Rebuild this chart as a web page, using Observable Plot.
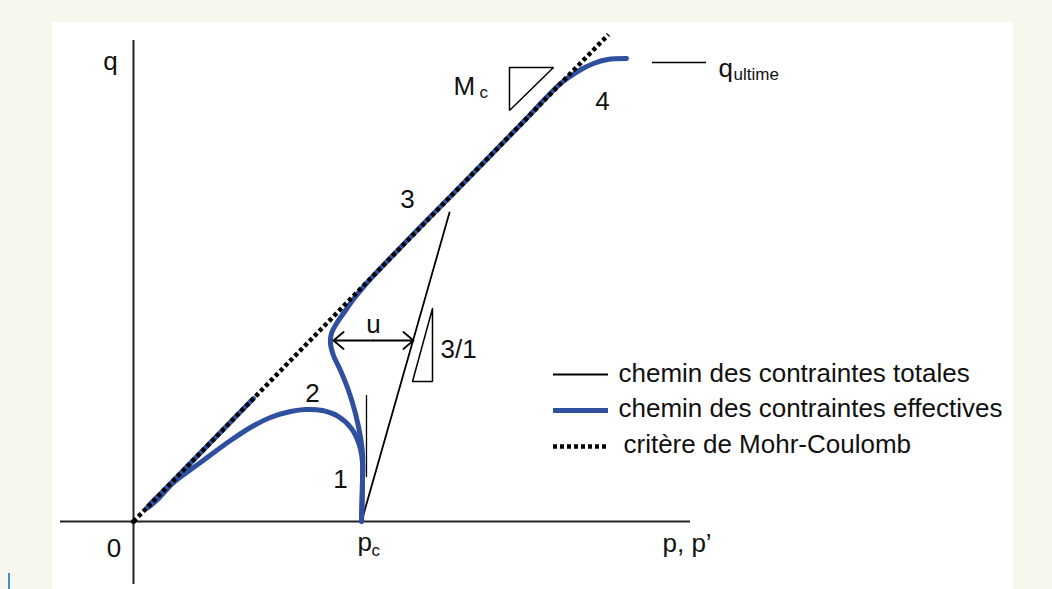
<!DOCTYPE html>
<html><head><meta charset="utf-8">
<script src="https://cdn.jsdelivr.net/npm/d3@7"></script>
<script src="https://cdn.jsdelivr.net/npm/@observablehq/plot@0.6"></script>
<style>
html,body{margin:0;padding:0;background:#f7f7ee;width:1052px;height:589px;overflow:hidden;}
#panel{position:absolute;left:52px;top:22px;width:961px;height:567px;background:#fff;}
#mark{position:absolute;left:8px;top:573px;width:2px;height:16px;background:#4a8ad0;}
#chart{position:absolute;left:0;top:0;}
</style></head><body>
<div id="panel"></div><div id="mark"></div><div id="chart"></div>
<script>
// ---- data (p = p/pc, q = q/pc) ----
const xDomain = [-0.5833, 4.0307];
const yDomain = [-0.2556, 1.9586];
const axisP = [-0.3202, 2.4430];      // horizontal axis extent
const axisQ = [-0.2368, 1.8083];      // vertical axis extent

const mcP = [0, 2.0833];               // Mohr-Coulomb line
const mcQ = [0, 1.8308];

const totalP = [1.0, 1.386];           // total stress path (3/1)
const totalQ = [0, 1.1617];

const tickP = 1.0219, tickQ = [0.1654, 0.4737];

// effective stress path 1-3-4
const mainP = [1.0000, 1.0044, 1.0044, 0.9956, 0.9737, 0.9430, 0.9079, 0.8772, 0.8640, 0.8684, 0.8904, 0.9298, 0.9605, 1.0175, 1.1711, 1.4342, 1.6974, 1.8728, 1.9474, 2.0175, 2.0789, 2.1623];
const mainQ = [0.0000, 0.1541, 0.2556, 0.3158, 0.4060, 0.4925, 0.5677, 0.6241, 0.6692, 0.7068, 0.7444, 0.7932, 0.8308, 0.8910, 1.0301, 1.2604, 1.4917, 1.6459, 1.6917, 1.7218, 1.7368, 1.7406];

// effective stress path 1-2
const c2P = [1.0000, 1.0044, 1.0044, 0.9912, 0.9561, 0.8991, 0.8289, 0.7544, 0.6886, 0.6009, 0.5132, 0.4254, 0.2939, 0.1754, 0.1053, 0.0702, 0.0570, 0.1500, 0.5263];
const c2Q = [0.0000, 0.1541, 0.2218, 0.2857, 0.3496, 0.3947, 0.4173, 0.4211, 0.4135, 0.3910, 0.3534, 0.3045, 0.2218, 0.1466, 0.0827, 0.0564, 0.0489, 0.1318, 0.4625];

// slope triangles
const mcTriP = [1.6491, 1.8421, 1.6491, 1.6491];
const mcTriQ = [1.7068, 1.7068, 1.5451, 1.7068];
const slTriP = [1.3114, 1.3114, 1.2237, 1.3114];
const slTriQ = [0.8008, 0.5263, 0.5263, 0.8008];

// u arrow
const uQ = 0.6805, uP = [0.8772, 1.0526, 1.2281];

// q ultime leader
const qultP = [2.2763, 2.5132], qultQ = 1.7256;

// labels
const labelText = ["q", "0", "4", "3", "2", "1", "u"];
const labelP = [-0.1009, -0.0855, 2.0570, 1.2018, 0.7851, 0.9079, 1.0526];
const labelQ = [1.6974, -0.1353, 1.5451, 1.1767, 0.4511, 0.1278, 0.7105];
const startText = ["p", "p, p\u2019", "M", "3/1", "q"];
const startP = [0.9825, 2.3202, 1.4035, 1.3465, 2.5658];
const startQ = [-0.1090, -0.1128, 1.6015, 0.6128, 1.6692];
const subText = ["c", "c", "ultime"];
const subP = [1.0439, 1.5175, 2.6316];
const subQ = [-0.1278, 1.5902, 1.6579];

// legend
const legendText = ["chemin des contraintes totales", "chemin des contraintes effectives", "crit\u00e8re de Mohr-Coulomb"];
const legendP = [2.1272, 2.1272, 2.1491];
const legendQ = [0.5226, 0.3910, 0.2594];
const swatchP = [1.8421, 2.0833];
const swatchQ = [0.5526, 0.4173, 0.2820];

const BLUE = "#2f4f9f";
const FONT = "Liberation Sans, Arial, Helvetica, sans-serif";
const zip = (P, Q) => P.map((p, i) => ({p, q: Q[i]}));

const plot = Plot.plot({
  width: 1052, height: 589,
  marginTop: 0, marginRight: 0, marginBottom: 0, marginLeft: 0,
  x: {domain: xDomain, axis: null},
  y: {domain: yDomain, axis: null},
  style: {background: "transparent", overflow: "visible"},
  marks: [
    Plot.ruleX([0], {y1: axisQ[0], y2: axisQ[1], stroke: "#222", strokeWidth: 2}),
    Plot.ruleY([0], {x1: axisP[0], x2: axisP[1], stroke: "#222", strokeWidth: 2}),
    Plot.line(zip(totalP, totalQ), {x: "p", y: "q", stroke: "#000", strokeWidth: 1.8}),
    Plot.ruleX([tickP], {y1: tickQ[0], y2: tickQ[1], stroke: "#000", strokeWidth: 1.3}),
    Plot.line(zip(mcTriP, mcTriQ), {x: "p", y: "q", stroke: "#000", strokeWidth: 1.5, strokeLinejoin: "miter"}),
    Plot.line(zip(slTriP, slTriQ), {x: "p", y: "q", stroke: "#000", strokeWidth: 1.5, strokeLinejoin: "miter"}),
    Plot.line(zip(c2P, c2Q), {x: "p", y: "q", stroke: BLUE, strokeWidth: 5, curve: "catmull-rom"}),
    Plot.line(zip(mainP, mainQ), {x: "p", y: "q", stroke: BLUE, strokeWidth: 5, curve: "catmull-rom"}),
    Plot.line(zip(mcP, mcQ), {x: "p", y: "q", stroke: "#000", strokeWidth: 4.5, strokeDasharray: "4,3", strokeLinecap: "butt"}),
    Plot.dot([{p: 0, q: 0}], {x: "p", y: "q", r: 2.5, fill: "#000"}),
    Plot.arrow([{x1: uP[1], x2: uP[0]}, {x1: uP[1], x2: uP[2]}], {x1: "x1", x2: "x2", y1: uQ, y2: uQ, stroke: "#000", strokeWidth: 1.8, headLength: 11, headAngle: 80}),
    Plot.ruleY([qultQ], {x1: qultP[0], x2: qultP[1], stroke: "#000", strokeWidth: 1.5}),
    Plot.text(labelText, {x: (d, i) => labelP[i], y: (d, i) => labelQ[i], text: d => d, textAnchor: "middle", lineAnchor: "bottom", fontSize: 26, fontFamily: FONT, fill: "#111"}),
    Plot.text(startText, {x: (d, i) => startP[i], y: (d, i) => startQ[i], text: d => d, textAnchor: "start", lineAnchor: "bottom", fontSize: 26, fontFamily: FONT, fill: "#111"}),
    Plot.text(subText, {x: (d, i) => subP[i], y: (d, i) => subQ[i], text: d => d, textAnchor: "start", lineAnchor: "bottom", fontSize: 17, fontFamily: FONT, fill: "#111"}),
    // legend
    Plot.ruleY([swatchQ[0]], {x1: swatchP[0], x2: swatchP[1], stroke: "#000", strokeWidth: 2}),
    Plot.ruleY([swatchQ[1]], {x1: swatchP[0], x2: swatchP[1], stroke: BLUE, strokeWidth: 5}),
    Plot.ruleY([swatchQ[2]], {x1: swatchP[0], x2: swatchP[1], stroke: "#000", strokeWidth: 4.5, strokeDasharray: "4,3"}),
    Plot.text(legendText, {x: (d, i) => legendP[i], y: (d, i) => legendQ[i], text: d => d, textAnchor: "start", lineAnchor: "bottom", fontSize: 26, fontFamily: FONT, fill: "#111"})
  ]
});
document.getElementById("chart").appendChild(plot);
</script></body></html>
